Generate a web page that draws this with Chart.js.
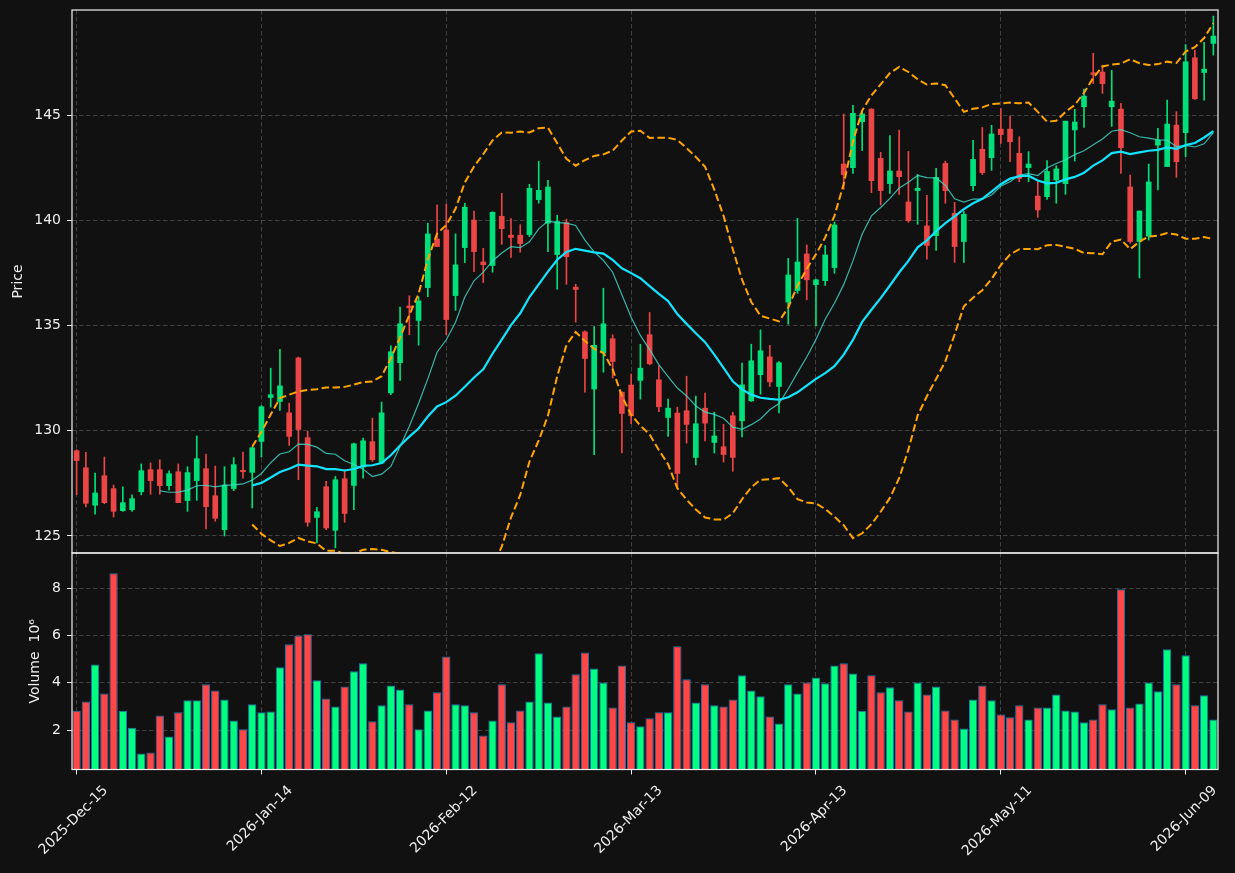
<!DOCTYPE html>
<html>
<head>
<meta charset="utf-8">
<title>Candlestick with Bollinger bands</title>
<script src="https://cdn.jsdelivr.net/npm/chart.js@4.4.1/dist/chart.umd.min.js"></script>
<style>
  html, body { margin: 0; padding: 0; background: #111111; }
  #wrap { position: relative; width: 1235px; height: 873px; }
  #wrap canvas { position: absolute; left: 0; top: 0; }
</style>
</head>
<body>
<div id="wrap">
  <canvas id="volChart" width="1235" height="873"></canvas>
  <canvas id="priceChart" width="1235" height="873"></canvas>
</div>
<script>
// 가격/거래량 데이터
const opens = [
  129.05, 128.24, 126.46, 127.86, 127.25, 126.20, 126.25, 127.10, 128.15, 128.15,
  127.39, 128.05, 126.68, 127.63, 128.20, 126.91, 125.30, 127.25, 128.09, 128.02,
  129.49, 131.58, 131.39, 130.85, 133.46, 129.67, 125.88, 127.34, 125.27, 127.72,
  127.40, 128.27, 129.48, 128.46, 131.80, 133.23, 135.93, 135.24, 136.80, 139.11,
  139.54, 136.42, 138.70, 140.01, 138.02, 137.85, 140.19, 139.29, 139.29, 139.32,
  140.98, 139.86, 138.37, 139.89, 136.82, 134.70, 131.98, 133.69, 134.37, 131.83,
  132.17, 132.39, 134.56, 132.42, 130.63, 130.84, 130.95, 128.73, 131.07, 129.44,
  129.24, 130.71, 130.47, 131.42, 132.66, 133.51, 132.10, 136.11, 136.66, 138.40,
  136.94, 137.13, 137.75, 142.67, 142.50, 144.68, 145.28, 142.94, 141.74, 142.34,
  140.87, 141.41, 139.73, 139.27, 142.70, 140.33, 138.99, 141.64, 143.37, 142.97,
  144.33, 144.33, 143.18, 142.50, 141.15, 141.12, 141.91, 141.74, 144.29, 145.39,
  147.01, 147.04, 145.39, 145.28, 141.58, 138.99, 139.25, 143.57, 142.55, 144.52,
  144.16, 147.72, 147.02, 148.40
];
const highs = [
  129.10, 128.97, 127.99, 128.75, 127.42, 127.33, 126.95, 128.42, 128.47, 128.62,
  128.10, 128.42, 128.29, 129.75, 128.89, 128.32, 128.29, 128.72, 128.99, 129.21,
  131.20, 132.97, 133.87, 131.31, 133.50, 129.98, 126.36, 127.59, 127.83, 128.15,
  129.41, 129.65, 130.60, 131.36, 134.03, 135.88, 136.41, 136.37, 139.86, 140.73,
  140.77, 139.35, 140.81, 140.44, 138.67, 140.40, 141.28, 140.08, 139.79, 141.71,
  142.80, 141.90, 140.24, 140.05, 136.96, 134.75, 134.95, 136.77, 134.56, 131.85,
  132.69, 134.11, 135.62, 133.10, 131.50, 131.12, 132.59, 131.64, 131.79, 130.88,
  130.30, 130.88, 133.21, 134.11, 134.79, 134.06, 133.29, 138.19, 140.09, 138.83,
  137.20, 138.80, 139.92, 145.05, 145.46, 145.20, 145.30, 143.23, 144.02, 144.29,
  143.27, 142.18, 141.18, 142.47, 142.81, 140.85, 140.41, 143.80, 144.41, 144.51,
  145.31, 144.95, 143.97, 143.26, 141.87, 142.83, 142.59, 144.71, 145.27, 146.23,
  147.93, 147.37, 147.12, 145.55, 142.15, 140.44, 142.67, 144.37, 145.71, 145.16,
  148.35, 148.08, 148.45, 149.70
];
const lows = [
  126.96, 126.38, 126.04, 126.53, 125.90, 126.16, 126.16, 126.95, 126.98, 126.98,
  127.17, 126.58, 126.17, 126.69, 125.33, 125.70, 125.00, 127.15, 127.75, 126.33,
  128.75, 131.12, 130.96, 129.30, 127.67, 125.46, 124.67, 125.30, 124.43, 125.65,
  126.25, 127.75, 128.54, 128.46, 131.71, 132.39, 134.56, 134.06, 136.37, 138.75,
  134.56, 135.72, 137.99, 137.56, 137.04, 137.53, 138.86, 138.24, 138.48, 139.22,
  140.81, 138.51, 136.72, 136.96, 135.16, 131.83, 128.86, 132.78, 132.50, 128.94,
  130.33, 131.50, 133.13, 130.90, 129.73, 127.32, 129.41, 128.37, 129.52, 128.94,
  128.51, 128.07, 129.70, 131.39, 131.74, 132.10, 130.84, 135.06, 136.53, 136.22,
  134.98, 136.90, 137.48, 141.47, 142.23, 143.31, 141.31, 140.73, 141.28, 141.23,
  139.90, 139.81, 138.15, 138.57, 140.81, 138.00, 138.00, 141.41, 142.17, 142.37,
  143.65, 142.78, 141.83, 141.83, 140.14, 140.99, 140.81, 141.23, 142.81, 144.41,
  146.50, 146.03, 144.46, 142.23, 138.91, 137.26, 139.06, 141.44, 142.55, 142.04,
  143.02, 145.74, 145.71, 147.85
];
const closes = [
  128.58, 126.55, 127.04, 126.58, 126.17, 126.58, 126.77, 128.10, 127.63, 127.39,
  127.96, 126.58, 128.01, 128.67, 126.39, 125.84, 127.42, 128.39, 128.05, 129.19,
  131.14, 131.71, 132.13, 129.73, 130.06, 125.65, 126.15, 125.38, 127.67, 126.07,
  129.38, 129.52, 128.62, 130.85, 133.75, 135.08, 135.84, 136.17, 139.35, 138.75,
  135.28, 137.88, 140.62, 138.51, 137.89, 140.38, 139.60, 139.18, 138.89, 141.52,
  141.42, 141.58, 139.94, 138.27, 136.71, 133.43, 134.06, 135.08, 133.29, 130.82,
  130.71, 132.97, 133.18, 131.14, 131.07, 127.97, 130.30, 130.33, 130.36, 129.75,
  128.87, 128.73, 132.18, 133.32, 133.80, 132.32, 133.23, 137.40, 138.02, 137.17,
  137.17, 138.35, 139.78, 142.17, 145.08, 145.05, 141.88, 141.41, 142.34, 142.07,
  139.98, 141.52, 138.80, 142.04, 141.41, 138.75, 140.28, 142.89, 142.26, 144.10,
  144.07, 143.73, 141.99, 142.67, 140.49, 142.32, 142.44, 144.71, 144.67, 145.90,
  146.93, 146.49, 145.66, 143.45, 138.99, 140.44, 141.82, 143.81, 144.57, 142.78,
  147.53, 145.77, 147.18, 148.75
];
// 거래량 (단위 10^6)
const volumes = [
  2.82, 3.21, 4.78, 3.55, 8.64, 2.82, 2.10, 1.01, 1.05, 2.62,
  1.73, 2.75, 3.26, 3.26, 3.94, 3.68, 3.30, 2.41, 2.03, 3.09,
  2.75, 2.79, 4.66, 5.63, 6.01, 6.06, 4.11, 3.34, 3.00, 3.85,
  4.49, 4.83, 2.37, 3.05, 3.89, 3.72, 3.09, 2.03, 2.83, 3.60,
  5.12, 3.09, 3.05, 2.75, 1.77, 2.41, 3.94, 2.33, 2.83, 3.21,
  5.25, 3.17, 2.58, 3.00, 4.36, 5.29, 4.61, 4.02, 2.96, 4.74,
  2.33, 2.16, 2.50, 2.75, 2.75, 5.55, 4.15, 3.17, 3.94, 3.05,
  3.00, 3.30, 4.32, 3.68, 3.43, 2.58, 2.28, 3.94, 3.55, 4.02,
  4.23, 3.98, 4.74, 4.83, 4.40, 2.82, 4.32, 3.60, 3.81, 3.26,
  2.79, 4.02, 3.51, 3.85, 2.83, 2.45, 2.07, 3.30, 3.89, 3.26,
  2.66, 2.54, 3.05, 2.45, 2.96, 2.96, 3.51, 2.83, 2.79, 2.33,
  2.45, 3.09, 2.88, 7.96, 2.96, 3.13, 4.02, 3.64, 5.42, 3.94,
  5.17, 3.05, 3.47, 2.45
];

const tickLabels = ['2025-Dec-15', '2026-Jan-14', '2026-Feb-12', '2026-Mar-13', '2026-Apr-13', '2026-May-11', '2026-Jun-09'];
const tickEvery = 20;
const priceTicks = [125, 130, 135, 140, 145];
const volumeTicks = [2, 4, 6, 8];

// 색상
const upColor = '#00e07a';
const downColor = '#ec4545';
const volUp = '#00ff80';
const volDown = '#ff4747';
const gridColor = 'rgba(255, 255, 255, 0.2)';
const textColor = '#eeeeee';
const fontFamily = "'DejaVu Sans', sans-serif";

// 이동평균 / 볼린저 밴드
function sma(src, n) {
  return src.map((_, i) => {
    if (i < n - 1) return null;
    let s = 0;
    for (let k = i - n + 1; k <= i; k++) s += src[k];
    return s / n;
  });
}

function band(src, n, mult, sign) {
  const mid = sma(src, n);
  return src.map((_, i) => {
    if (mid[i] === null) return null;
    let v = 0;
    for (let k = i - n + 1; k <= i; k++) v += (src[k] - mid[i]) ** 2;
    return mid[i] + sign * mult * Math.sqrt(v / n);
  });
}

const labels = closes.map((_, i) => i);
const isUp = closes.map((c, i) => c >= opens[i]);
const candleColors = isUp.map(u => u ? upColor : downColor);
const volColors = isUp.map(u => u ? volUp : volDown);

const ma10 = sma(closes, 10);
const ma20 = sma(closes, 20);
const upper = band(closes, 20, 2, 1);
const lower = band(closes, 20, 2, -1);

const framePlugin = {
  id: 'frame',
  afterDraw(chart) {
    const { ctx, chartArea: a } = chart;
    ctx.save();
    ctx.strokeStyle = '#f2f2f2';
    ctx.lineWidth = 1.2;
    ctx.strokeRect(a.left, a.top, a.right - a.left, a.bottom - a.top);
    ctx.restore();
  }
};

const isMajor = (i) => i % tickEvery === 0;

function xScale(showLabels) {
  return {
    type: 'category',
    labels: labels,
    offset: true,
    grid: {
      offset: false,
      color: (c) => isMajor(c.index) ? gridColor : 'transparent',
      tickColor: (c) => isMajor(c.index) ? textColor : 'transparent',
      drawTicks: showLabels,
      tickLength: 5,
      lineWidth: 1
    },
    border: { display: false, dash: [4.5, 2.5] },
    ticks: {
      display: showLabels,
      autoSkip: false,
      maxRotation: 45,
      minRotation: 45,
      labelOffset: 29,
      padding: 8,
      color: textColor,
      font: { family: fontFamily, size: 14 },
      callback: (v, i) => isMajor(i) ? tickLabels[i / tickEvery] : ''
    },
    afterFit: (s) => { s.height = showLabels ? 103.5 : 0; }
  };
}

function yScale(min, max, tickList, title, titlePad) {
  return {
    type: 'linear',
    position: 'left',
    min: min,
    max: max,
    grid: { color: gridColor, tickColor: textColor, tickLength: 5 },
    border: { display: false, dash: [4.5, 2.5] },
    ticks: {
      color: textColor,
      padding: 6,
      font: { family: fontFamily, size: 14 }
    },
    title: {
      display: true,
      text: title,
      color: textColor,
      font: { family: fontFamily, size: 14 },
      padding: { top: titlePad, bottom: 0 }
    },
    afterBuildTicks: (s) => { s.ticks = tickList.map(v => ({ value: v })); },
    afterFit: (s) => {
      s.width = 72;
      s.paddingTop = 0;
      s.paddingBottom = 0;
    }
  };
}

const common = {
  responsive: false,
  animation: false,
  events: [],
  plugins: { legend: { display: false }, tooltip: { enabled: false } }
};

// 1. 가격 패널 (캔들 + 이동평균 + 밴드)
new Chart(document.getElementById('priceChart').getContext('2d'), {
  type: 'bar',
  data: {
    labels: labels,
    datasets: [
      { type: 'line', data: ma20, borderColor: '#12e4ff', borderWidth: 2.2, pointRadius: 0, tension: 0, order: 0 },
      { type: 'line', data: ma10, borderColor: 'rgba(64, 224, 208, 0.8)', borderWidth: 1.2, pointRadius: 0, tension: 0, order: 0 },
      { type: 'line', data: upper, borderColor: '#ffa500', borderWidth: 2, borderDash: [7.5, 3.5], pointRadius: 0, tension: 0, order: 0 },
      { type: 'line', data: lower, borderColor: '#ffa500', borderWidth: 2, borderDash: [7.5, 3.5], pointRadius: 0, tension: 0, order: 0 },
      { data: opens.map((o, i) => [o, closes[i]]), backgroundColor: candleColors, barThickness: 5, minBarLength: 1.5, grouped: false, order: 1 },
      { data: lows.map((l, i) => [l, highs[i]]), backgroundColor: candleColors, barThickness: 1, grouped: false, order: 2 }
    ]
  },
  options: {
    ...common,
    layout: { padding: { top: 10, right: 17, bottom: 320, left: 0 } },
    scales: {
      x: xScale(false),
      y: yScale(124.19, 149.99, priceTicks, 'Price', 10)
    }
  },
  plugins: [framePlugin]
});

// 2. 거래량 패널
new Chart(document.getElementById('volChart').getContext('2d'), {
  type: 'bar',
  data: {
    labels: labels,
    datasets: [{
      data: volumes,
      backgroundColor: volColors,
      borderColor: '#1f77b4',
      borderWidth: 1,
      barPercentage: 0.9,
      categoryPercentage: 1
    }]
  },
  options: {
    ...common,
    layout: { padding: { top: 553, right: 17, bottom: 0, left: 0 } },
    scales: {
      x: xScale(true),
      y: yScale(0.33, 9.5, volumeTicks, 'Volume  10\u2076', 27)
    }
  },
  plugins: [framePlugin]
});
</script>
</body>
</html>
